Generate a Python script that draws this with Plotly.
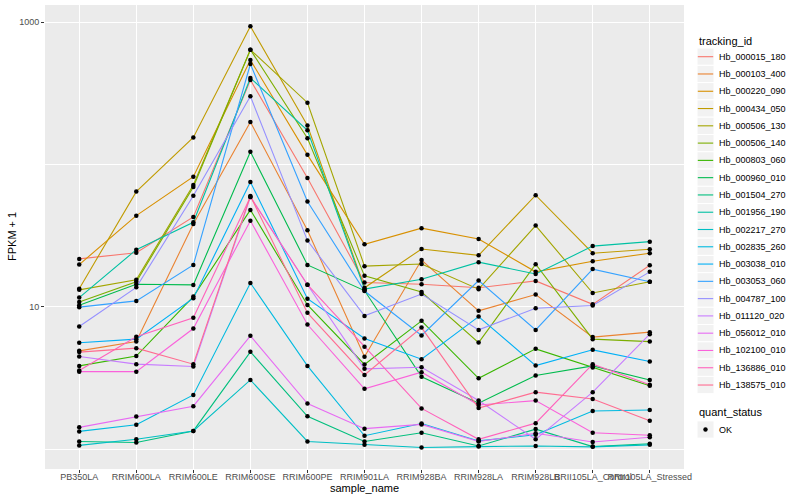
import plotly.graph_objects as go

# ---------------- data ----------------
samples = ["PB350LA", "RRIM600LA", "RRIM600LE", "RRIM600SE", "RRIM600PE", "RRIM901LA",
           "RRIM928BA", "RRIM928LA", "RRIM928LB", "RRII105LA_Control", "RRII105LA_Stressed"]

tracking_ids = ["Hb_000015_180", "Hb_000103_400", "Hb_000220_090", "Hb_000434_050",
                "Hb_000506_130", "Hb_000506_140", "Hb_000803_060", "Hb_000960_010",
                "Hb_001504_270", "Hb_001956_190", "Hb_002217_270", "Hb_002835_260",
                "Hb_003038_010", "Hb_003053_060", "Hb_004787_100", "Hb_011120_020",
                "Hb_056012_010", "Hb_102100_010", "Hb_136886_010", "Hb_138575_010"]

hb_000015_180 = [21.7, 24.0, 42.8, 393, 80.5, 14.8, 14.4, 13.6, 15.2, 10.4, 19.6]
hb_000103_400 = [4.90, 5.69, 38.2, 199, 34.5, 4.45, 21.3, 9.36, 12.2, 6.12, 6.63]
hb_000220_090 = [19.8, 43.7, 82.2, 543, 117, 27.5, 35.7, 30.0, 17.6, 20.9, 23.8]
hb_000434_050 = [13.4, 64.5, 155, 937, 188, 13.6, 25.5, 23.0, 60.9, 23.8, 25.4]
hb_000506_130 = [13.15, 15.5, 71.9, 642, 272, 19.3, 20.0, 13.3, 37.2, 12.5, 15.0]
hb_000506_140 = [10.8, 15.0, 69.6, 642, 153, 16.5, 12.7, 5.60, 19.9, 5.92, 5.69]
hb_000803_060 = [3.84, 4.50, 11.8, 48.0, 10.3, 3.93, 7.96, 3.14, 5.06, 3.74, 2.78]
hb_000960_010 = [10.26, 14.4, 14.25, 123, 19.7, 13.0, 3.22, 2.10, 3.29, 3.84, 3.06]
hb_001504_270 = [1.13, 1.11, 1.34, 4.82, 1.70, 1.13, 1.30, 1.05, 1.38, 1.04, 1.09]
hb_001956_190 = [11.6, 25.2, 39.3, 406, 174, 13.3, 15.6, 20.6, 17.0, 26.7, 28.7]
hb_002217_270 = [1.06, 1.17, 1.34, 3.06, 1.13, 1.07, 1.024, 1.04, 1.05, 1.036, 1.07]
hb_002835_260 = [1.33, 1.48, 2.40, 14.7, 3.84, 1.24, 1.51, 1.14, 1.26, 1.85, 1.88]
hb_003038_010 = [5.58, 5.92, 11.5, 75.4, 11.4, 5.98, 4.28, 8.53, 3.86, 4.98, 4.12]
hb_003053_060 = [9.94, 11.0, 19.7, 509, 54.9, 12.9, 6.28, 15.3, 6.88, 18.4, 15.0]
hb_004787_100 = [7.26, 13.7, 60.4, 302, 29.2, 8.63, 12.3, 6.88, 9.77, 10.2, 17.6]
hb_011120_020 = [4.47, 3.95, 3.80, 59.2, 14.3, 3.66, 3.76, 2.19, 1.17, 2.51, 6.42]
hb_056012_010 = [1.42, 1.69, 2.00, 6.25, 2.09, 1.39, 1.49, 1.13, 1.29, 1.12, 1.21]
hb_102100_010 = [3.50, 3.50, 7.03, 40.3, 7.50, 2.65, 3.47, 2.04, 2.19, 1.30, 1.25]
hb_136886_010 = [3.56, 6.15, 8.36, 59.2, 14.3, 5.23, 1.93, 1.17, 1.52, 3.95, 2.83]
hb_138575_010 = [4.80, 5.12, 3.95, 60.1, 9.06, 3.32, 7.14, 1.94, 2.51, 2.25, 1.58]

series_values = [hb_000015_180, hb_000103_400, hb_000220_090, hb_000434_050,
                 hb_000506_130, hb_000506_140, hb_000803_060, hb_000960_010,
                 hb_001504_270, hb_001956_190, hb_002217_270, hb_002835_260,
                 hb_003038_010, hb_003053_060, hb_004787_100, hb_011120_020,
                 hb_056012_010, hb_102100_010, hb_136886_010, hb_138575_010]

quant_status_levels = ["OK"]
y_tick_values = [10, 1000]
y_tick_labels = ["10", "1000"]
y_minor_values = [1, 100]

# ---------------- style ----------------
colors = ["#F8766D", "#EA8331", "#D89000", "#C09B00", "#A3A500", "#7CAE00", "#39B600",
          "#00BB4E", "#00BF7D", "#00C1A3", "#00BFC4", "#00BAE0", "#00B0F6", "#35A2FF",
          "#9590FF", "#C77CFF", "#E76BF3", "#FA62DB", "#FF62BC", "#FF6C91"]
FONT = "Liberation Sans, Arial, Helvetica, sans-serif"
W, H = 800, 500
ML, MR, MT, MB = 45, 116, 5, 31
PW, PH = W - ML - MR, H - MT - MB


def px(xp):
    return (xp - ML) / PW


def py(yp):
    return (H - MB - yp) / PH


fig = go.Figure()
for name, vals, col in zip(tracking_ids, series_values, colors):
    fig.add_trace(go.Scatter(x=samples, y=vals, mode="lines", name=name,
                             line=dict(color=col, width=1.1), showlegend=False,
                             hoverinfo="skip"))
for name, vals in zip(tracking_ids, series_values):
    fig.add_trace(go.Scatter(x=samples, y=vals, mode="markers", name=name,
                             marker=dict(color="black", size=4.5), showlegend=False))

shapes = []
annotations = []

# axis titles
annotations.append(dict(text="sample_name", x=0.5, y=py(488), xref="paper", yref="paper",
                        showarrow=False, xanchor="center", yanchor="middle",
                        font=dict(size=11, color="black", family=FONT)))
annotations.append(dict(text="FPKM + 1", x=px(12), y=0.5, xref="paper", yref="paper",
                        showarrow=False, textangle=-90, xanchor="center", yanchor="middle",
                        font=dict(size=11, color="black", family=FONT)))

# manual legend (ggplot style)
KX0, KX1 = 697, 714
TX = 717
pitch = 17.28
annotations.append(dict(text="tracking_id", x=px(KX0), y=py(40.7), xref="paper", yref="paper",
                        showarrow=False, xanchor="left", yanchor="middle",
                        font=dict(size=11, color="black", family=FONT)))
for i, (name, col) in enumerate(zip(tracking_ids, colors)):
    cy = 56.7 + pitch * i
    shapes.append(dict(type="rect", xref="paper", yref="paper",
                       x0=px(KX0), x1=px(KX1), y0=py(cy - pitch / 2), y1=py(cy + pitch / 2),
                       fillcolor="#F2F2F2", line=dict(color="white", width=1)))
    shapes.append(dict(type="line", xref="paper", yref="paper",
                       x0=px(KX0 + 0.8), x1=px(KX1 - 0.8), y0=py(cy), y1=py(cy),
                       line=dict(color=col, width=1.1)))
    annotations.append(dict(text=name, x=px(TX), y=py(cy), xref="paper", yref="paper",
                            showarrow=False, xanchor="left", yanchor="middle",
                            font=dict(size=9, color="black", family=FONT)))

annotations.append(dict(text="quant_status", x=px(KX0), y=py(412.3), xref="paper", yref="paper",
                        showarrow=False, xanchor="left", yanchor="middle",
                        font=dict(size=11, color="black", family=FONT)))
for j, lvl in enumerate(quant_status_levels):
    cy = 429.5 + pitch * j
    shapes.append(dict(type="rect", xref="paper", yref="paper",
                       x0=px(KX0), x1=px(KX1), y0=py(cy - pitch / 2), y1=py(cy + pitch / 2),
                       fillcolor="#F2F2F2", line=dict(color="white", width=1)))
    cx = (KX0 + KX1) / 2
    shapes.append(dict(type="circle", xref="paper", yref="paper",
                       x0=px(cx - 2.2), x1=px(cx + 2.2), y0=py(cy + 2.2), y1=py(cy - 2.2),
                       fillcolor="black", line=dict(color="black", width=0)))
    annotations.append(dict(text=lvl, x=px(TX), y=py(cy), xref="paper", yref="paper",
                            showarrow=False, xanchor="left", yanchor="middle",
                            font=dict(size=9, color="black", family=FONT)))

fig.update_layout(
    width=W, height=H,
    margin=dict(l=ML, r=MR, t=MT, b=MB, pad=0, autoexpand=False),
    plot_bgcolor="#EBEBEB", paper_bgcolor="white",
    font=dict(family=FONT),
    showlegend=False,
    shapes=shapes, annotations=annotations,
    xaxis=dict(type="category", categoryorder="array", categoryarray=samples,
               range=[-0.6, len(samples) - 0.4], showgrid=True, gridcolor="white",
               gridwidth=1.1, zeroline=False, showline=False, ticks="outside", ticklen=3,
               tickwidth=1, tickcolor="#333333", tickangle=0, ticklabelstandoff=-4,
               tickfont=dict(size=9, color="#4D4D4D", family=FONT), fixedrange=True,
               automargin=False),
    yaxis=dict(type="log", range=[-0.1405, 3.1216], tickmode="array",
               tickvals=y_tick_values, ticktext=y_tick_labels,
               showgrid=True, gridcolor="white", gridwidth=1.1, zeroline=False,
               showline=False, ticks="outside", ticklen=3, tickwidth=1, tickcolor="#333333",
               tickfont=dict(size=9, color="#4D4D4D", family=FONT),
               minor=dict(tickmode="array", tickvals=y_minor_values, showgrid=True,
                          gridcolor="white", gridwidth=0.55, ticks=""),
               fixedrange=True, automargin=False),
)

fig.write_html("out.html",
               config={"displayModeBar": False},
               post_script="document.body.style.margin='0px';document.body.style.padding='0px';")
